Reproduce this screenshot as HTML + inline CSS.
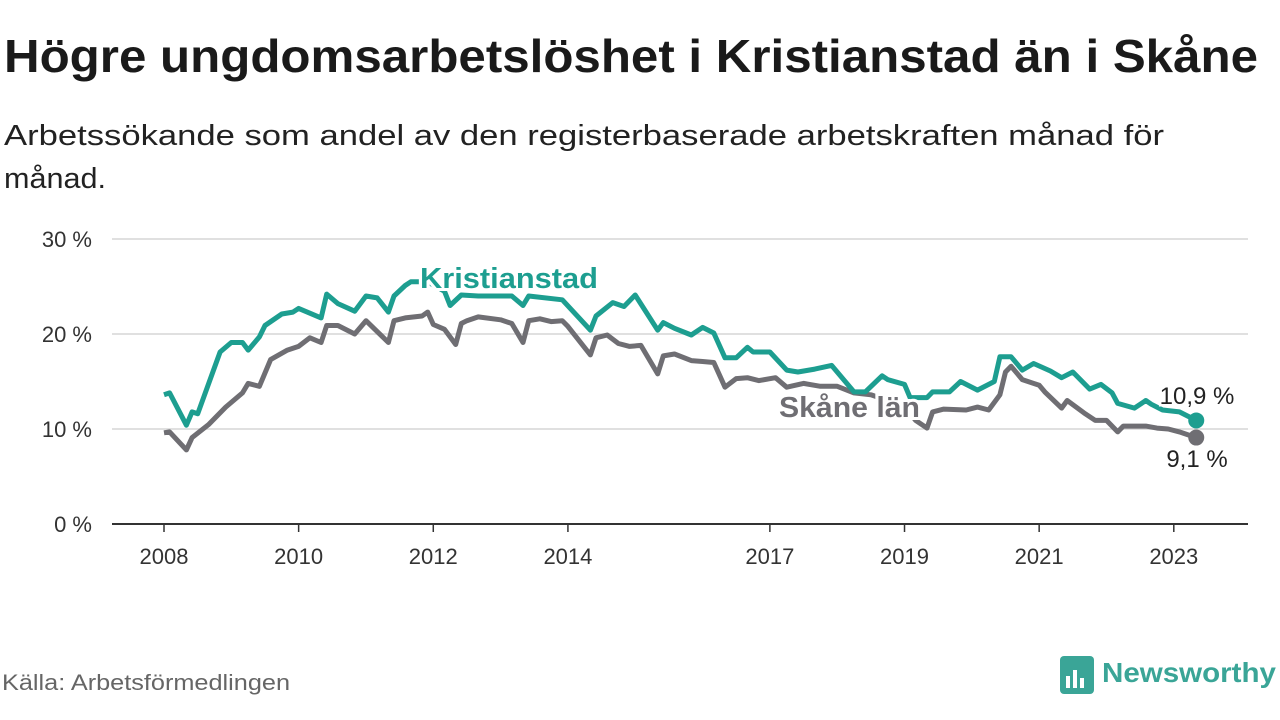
<!DOCTYPE html>
<html><head><meta charset="utf-8"><style>
body{margin:0;background:#fff;}
svg{display:block;font-family:"Liberation Sans","DejaVu Sans",sans-serif;}
</style></head><body>
<svg id="chart" width="1280" height="720" viewBox="0 0 1280 720">
<text x="4" y="72" font-size="46" font-weight="bold" fill="#1a1a1a" textLength="1254" lengthAdjust="spacingAndGlyphs">Högre ungdomsarbetslöshet i Kristianstad än i Skåne</text>
<text x="4" y="145" font-size="29" fill="#222" textLength="1160" lengthAdjust="spacingAndGlyphs">Arbetssökande som andel av den registerbaserade arbetskraften månad för</text>
<text x="4" y="188" font-size="29" fill="#222" textLength="102" lengthAdjust="spacingAndGlyphs">månad.</text>
<g id="grid"></g>
<g id="xaxis"></g>
<g id="series"></g>
<text x="2" y="690" font-size="22" fill="#666" textLength="288" lengthAdjust="spacingAndGlyphs">Källa: Arbetsförmedlingen</text>
<g>
<rect x="1060" y="656" width="34" height="38" rx="4" fill="#3aa597"/>
<rect x="1066" y="676" width="4" height="12" fill="#fff"/><rect x="1073" y="670" width="4" height="18" fill="#fff"/><rect x="1080" y="678" width="4" height="10" fill="#fff"/>
<text x="1102" y="682" font-size="28" font-weight="bold" fill="#3aa597" textLength="174" lengthAdjust="spacingAndGlyphs">Newsworthy</text>
</g>
</svg>
<script>
const yTicks=[0,10,20,30];
const xTickYears=[2008,2010,2012,2014,2017,2019,2021,2023];
const kMonths=[0,1,4,5,6,10,12,14,15,17,18,21,23,24,28,29,31,34,36,38,40,41,43,44,47,50,51,53,56,62,64,65,71,74,76,77,80,82,84,88,89,91,94,96,98,100,102,104,105,108,111,113,116,119,123,125,128,129,132,133,136,137,140,142,145,148,149,151,153,155,158,160,162,165,167,169,170,173,175,176,178,181,184];
const kValues=[13.6,13.8,10.4,11.8,11.6,18.1,19.1,19.1,18.3,19.7,20.9,22.1,22.3,22.7,21.7,24.2,23.2,22.4,24.0,23.8,22.3,24.0,25.1,25.5,25.5,24.5,23.0,24.1,24.0,24.0,23.0,24.0,23.6,21.7,20.4,21.9,23.3,22.9,24.1,20.4,21.2,20.6,19.9,20.7,20.1,17.5,17.5,18.6,18.1,18.1,16.2,16.0,16.3,16.7,13.9,13.9,15.6,15.2,14.7,13.3,13.3,13.9,13.9,15.0,14.1,15.0,17.6,17.6,16.2,16.9,16.1,15.4,16.0,14.2,14.7,13.8,12.7,12.2,13.0,12.6,12.0,11.8,10.9];
const sMonths=[0,1,4,5,8,11,14,15,17,19,22,24,26,28,29,31,34,36,40,41,43,46,47,48,50,52,53,54,56,60,62,64,65,67,69,71,72,76,77,79,81,83,85,88,89,91,94,96,98,100,102,104,106,109,111,114,117,120,123,126,129,132,134,136,137,139,143,145,147,149,150,151,153,156,157,160,161,164,166,168,170,171,175,177,179,181,184];
const sValues=[9.6,9.7,7.8,9.1,10.5,12.3,13.8,14.8,14.5,17.3,18.3,18.7,19.6,19.1,20.9,20.9,20.0,21.4,19.1,21.4,21.7,21.9,22.3,21.0,20.5,18.9,21.1,21.4,21.8,21.5,21.1,19.1,21.4,21.6,21.3,21.4,20.8,17.8,19.6,19.9,19.0,18.7,18.8,15.8,17.7,17.9,17.2,17.1,17.0,14.4,15.3,15.4,15.1,15.4,14.4,14.8,14.5,14.5,13.8,13.6,13.0,12.4,10.9,10.1,11.8,12.1,12.0,12.3,12.0,13.6,16.0,16.6,15.2,14.6,13.9,12.2,13.0,11.7,10.9,10.9,9.7,10.3,10.3,10.1,10.0,9.7,9.1];
const NS='http://www.w3.org/2000/svg';
const x=m=>164+m*5.61;
const xYear=yr=>x((yr-2008)*12);
const y=v=>524-v*9.5;
function mk(tag,attrs,parent){const e=document.createElementNS(NS,tag);for(const k in attrs)e.setAttribute(k,attrs[k]);parent.appendChild(e);return e;}
const grid=document.getElementById('grid');
yTicks.forEach(t=>{
  if(t>0){const l=mk('line',{x1:112,x2:1248,y1:y(t),y2:y(t),stroke:'#d6d6d6','stroke-width':1.5},grid);
  
  }
  const tx=mk('text',{x:92,y:y(t)+8,'font-size':22,fill:'#333','text-anchor':'end'},grid);
  tx.textContent=t+' %';
  
  
});
const xa=document.getElementById('xaxis');
const base=mk('line',{x1:112,x2:1248,y1:524,y2:524,stroke:'#333','stroke-width':2},xa);


xTickYears.forEach(yr=>{
  const t=mk('line',{x1:xYear(yr),x2:xYear(yr),y1:524,y2:532,stroke:'#333','stroke-width':1.5},xa);
  
  
  const tx=mk('text',{x:xYear(yr),y:564,'font-size':22,fill:'#333','text-anchor':'middle'},xa);
  tx.textContent=yr;
  
  
});
const sg=document.getElementById('series');
function line(ms,vs,col,name){
  const d=ms.map((m,i)=>(i?'L':'M')+x(m).toFixed(1)+','+y(vs[i]).toFixed(1)).join('');
  const p=mk('path',{d:d,fill:'none',stroke:col,'stroke-width':5,'stroke-linejoin':'round'},sg);
  
  
  const c=mk('circle',{cx:x(ms[ms.length-1]),cy:y(vs[vs.length-1]),r:8,fill:col},sg);
  
  
}
line(sMonths,sValues,'#6f6e73','skane-line');
line(kMonths,kValues,'#1d9e90','kristianstad-line');
function lbl(txt,xx,yy,col,name,bold,anchor,len){
  const a={x:xx,y:yy,'font-size':bold?29:24,'font-weight':bold?'bold':'normal',fill:col,stroke:'#fff','stroke-width':bold?6:5,'paint-order':'stroke','text-anchor':anchor||'start'};
  if(len){a.textLength=len;a.lengthAdjust='spacingAndGlyphs';}
  const t=mk('text',a,sg);
  t.textContent=txt;
  
  
}
lbl('Kristianstad',420,288,'#1d9e90','kristianstad-label',true,null,178);
lbl('Skåne län',779,417,'#6f6e73','skane-label',true,null,141);
lbl(kValues[kValues.length-1].toFixed(1).replace('.',',')+' %',1197,404,'#222','kristianstad-end-value',false,'middle');
lbl(sValues[sValues.length-1].toFixed(1).replace('.',',')+' %',1197,467,'#222','skane-end-value',false,'middle');
</script>
</body></html>
